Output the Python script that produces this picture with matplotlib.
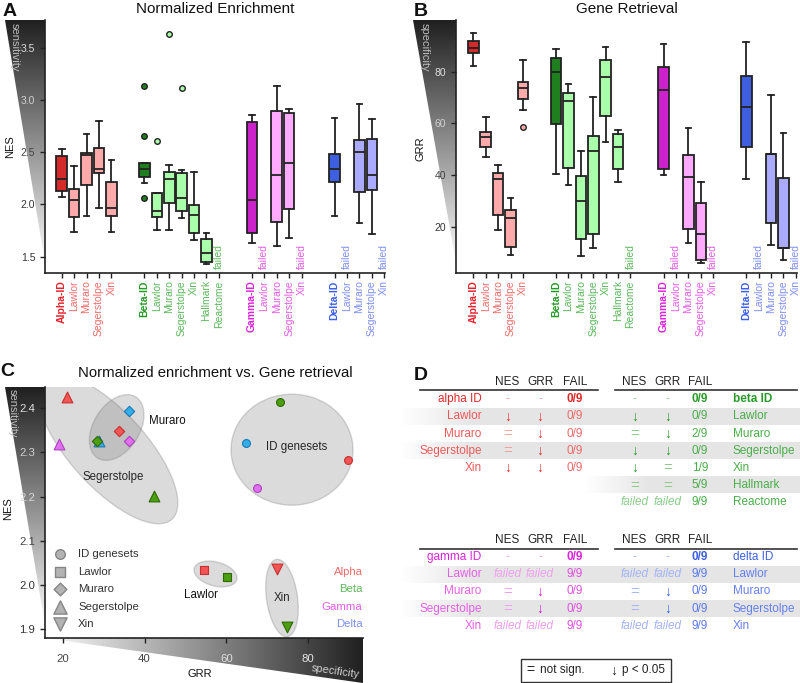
import numpy as np
import matplotlib
matplotlib.use('Agg')
import matplotlib.pyplot as plt
from matplotlib.patches import Polygon, Ellipse, Rectangle
from matplotlib.colors import LinearSegmentedColormap

plt.rcParams['font.family'] = ['Liberation Sans', 'DejaVu Sans']

# ---------------- data ----------------
group_names = ['Alpha', 'Beta', 'Gamma', 'Delta']
alpha_labels = ['Alpha-ID', 'Lawlor', 'Muraro', 'Segerstolpe', 'Xin']
beta_labels = ['Beta-ID', 'Lawlor', 'Muraro', 'Segerstolpe', 'Xin', 'Hallmark', 'Reactome']
gamma_labels = ['Gamma-ID', 'Lawlor', 'Muraro', 'Segerstolpe', 'Xin']
delta_labels = ['Delta-ID', 'Lawlor', 'Muraro', 'Segerstolpe', 'Xin']

N = None
# Panel A: NES box statistics (None = failed)
nes_whislo = [2.07, 1.74, 1.89, 1.97, 1.74, 2.20, 1.76, 1.76, 1.87, 1.66, 1.43, N,
              1.63, N, 1.60, 1.68, N, 1.89, N, 1.82, 1.72, N]
nes_q1 = [2.13, 1.88, 2.19, 2.30, 1.89, 2.26, 1.88, 2.01, 1.94, 1.73, 1.45, N,
          1.73, N, 1.83, 1.96, N, 2.21, N, 2.12, 2.14, N]
nes_med = [2.24, 2.04, 2.47, 2.34, 1.97, 2.34, 1.94, 2.24, 2.06, 1.90, 1.54, N,
           2.04, N, 2.28, 2.40, N, 2.34, N, 2.50, 2.28, N]
nes_q3 = [2.46, 2.15, 2.49, 2.54, 2.21, 2.40, 2.11, 2.31, 2.30, 1.99, 1.67, N,
          2.79, N, 2.89, 2.87, N, 2.48, N, 2.62, 2.63, N]
nes_whishi = [2.53, 2.37, 2.67, 2.80, 2.42, 2.40, 2.11, 2.38, 2.33, 2.31, 1.73, N,
              2.85, N, 3.13, 2.91, N, 2.83, N, 2.96, 2.82, N]
nes_fliers = [[], [], [], [], [], [3.13, 2.65, 2.06], [2.61], [3.63], [3.11], [], [], [],
              [], [], [], [], [], [], [], [], [], []]

# Panel B: GRR box statistics
grr_whislo = [82.2, 47.1, 18.7, 9.0, 65.2, 40.3, 36.1, 8.8, 11.6, 52.9, 37.4, N,
              40.0, N, 13.6, 5.8, N, 38.5, N, 12.9, 7.1, N]
grr_q1 = [87.1, 50.9, 24.5, 12.3, 69.4, 59.6, 42.6, 15.1, 17.1, 63.0, 42.3, N,
          42.2, N, 19.1, 7.1, N, 50.7, N, 21.3, 11.6, N]
grr_med = [89.3, 54.8, 38.5, 23.3, 73.8, 80.0, 68.8, 29.9, 49.4, 78.0, 51.0, N,
           73.0, N, 39.4, 17.1, N, 66.5, N, 48.1, 11.6, N]
grr_q3 = [92.0, 56.5, 40.7, 26.5, 75.9, 85.4, 71.9, 39.7, 55.2, 84.5, 55.9, N,
          81.9, N, 47.8, 29.3, N, 78.3, N, 48.1, 38.7, N]
grr_whishi = [94.9, 62.4, 43.9, 31.0, 84.5, 88.7, 75.1, 49.4, 70.3, 89.5, 57.4, N,
              90.8, N, 58.1, 37.4, N, 91.6, N, 71.0, 56.4, N]
grr_fliers = [[], [], [], [], [58.6], [], [], [], [], [], [], [],
              [], [], [], [], [], [], [], [], [], []]

# Panel C: scatter (median GRR vs NES)
sc_group = ['Alpha', 'Delta', 'Alpha', 'Delta', 'Beta', 'Gamma', 'Gamma', 'Beta',
            'Beta', 'Delta', 'Alpha', 'Gamma', 'Alpha', 'Beta', 'Alpha', 'Beta']
sc_dataset = ['Segerstolpe', 'Muraro', 'Muraro', 'Segerstolpe', 'Muraro', 'Muraro', 'Segerstolpe', 'Segerstolpe',
              'ID genesets', 'ID genesets', 'ID genesets', 'ID genesets', 'Lawlor', 'Lawlor', 'Xin', 'Xin']
sc_grr = [21.0, 36.3, 33.7, 28.9, 28.3, 36.2, 19.1, 42.3,
          73.1, 64.9, 89.7, 67.4, 54.5, 60.2, 72.3, 74.7]
sc_nes = [2.425, 2.394, 2.349, 2.325, 2.327, 2.325, 2.319, 2.202,
          2.415, 2.322, 2.282, 2.219, 2.034, 2.018, 2.035, 1.904]
legend_datasets = ['ID genesets', 'Lawlor', 'Muraro', 'Segerstolpe', 'Xin']

# Panel D: tables
tab_alpha_rows = ['alpha ID', 'Lawlor', 'Muraro', 'Segerstolpe', 'Xin']
tab_alpha_nes = ['-', '↓', '=', '=', '↓']
tab_alpha_grr = ['-', '↓', '↓', '↓', '↓']
tab_alpha_fail = ['0/9', '0/9', '0/9', '0/9', '0/9']
tab_beta_rows = ['beta ID', 'Lawlor', 'Muraro', 'Segerstolpe', 'Xin', 'Hallmark', 'Reactome']
tab_beta_nes = ['-', '↓', '=', '↓', '↓', '=', 'failed']
tab_beta_grr = ['-', '↓', '↓', '↓', '=', '=', 'failed']
tab_beta_fail = ['0/9', '0/9', '2/9', '0/9', '1/9', '5/9', '9/9']
tab_gamma_rows = ['gamma ID', 'Lawlor', 'Muraro', 'Segerstolpe', 'Xin']
tab_gamma_nes = ['-', 'failed', '=', '=', 'failed']
tab_gamma_grr = ['-', 'failed', '↓', '↓', 'failed']
tab_gamma_fail = ['0/9', '9/9', '0/9', '0/9', '9/9']
tab_delta_rows = ['delta ID', 'Lawlor', 'Muraro', 'Segerstolpe', 'Xin']
tab_delta_nes = ['-', 'failed', '=', '=', 'failed']
tab_delta_grr = ['-', 'failed', '↓', '↓', 'failed']
tab_delta_fail = ['0/9', '9/9', '0/9', '0/9', '9/9']

# ---------------- styles ----------------
box_dark = {'Alpha': '#d42a2a', 'Beta': '#1f7f1f', 'Gamma': '#cc22cc', 'Delta': '#3d5fe0'}
box_light = {'Alpha': '#ffaaaa', 'Beta': '#aaffaa', 'Gamma': '#ffaaff', 'Delta': '#aaaaff'}
lab_dark = {'Alpha': '#e8202a', 'Beta': '#229a22', 'Gamma': '#dd22dd', 'Delta': '#3c5ef0'}
lab_light = {'Alpha': '#f26a6a', 'Beta': '#5cb85c', 'Gamma': '#e65ce6', 'Delta': '#7f8ff5'}
pt_face = {'Alpha': '#f25555', 'Beta': '#4c9e12', 'Gamma': '#e070f0', 'Delta': '#33aee8'}
pt_edge = {'Alpha': '#c83030', 'Beta': '#2d6a00', 'Gamma': '#b040c0', 'Delta': '#1a78b8'}
markers = {'ID genesets': 'o', 'Lawlor': 's', 'Muraro': 'D', 'Segerstolpe': '^', 'Xin': 'v'}
msize = {'ID genesets': 32, 'Lawlor': 30, 'Muraro': 28, 'Segerstolpe': 60, 'Xin': 60}

W, H = 800, 683
fig = plt.figure(figsize=(8, 6.83), dpi=100)
bg = fig.add_axes([0, 0, 1, 1], zorder=0)
bg.axis('off')


def fax(l, t, r, b, lsize):
    ax = fig.add_axes([l / W, 1 - b / H, (r - l) / W, (b - t) / H], zorder=1)
    ax.set_facecolor('none')
    for s in ('top', 'right'):
        ax.spines[s].set_visible(False)
    for s in ('left', 'bottom'):
        ax.spines[s].set_color('#222222')
        ax.spines[s].set_linewidth(1.2)
    ax.tick_params(direction='out', length=3.5, width=1.0, color='#222222', labelsize=lsize)
    return ax


gcmap = LinearSegmentedColormap.from_list('g', ['#202020', '#fbfbfb'])


def wedge(verts, horizontal=False):
    xs = [v[0] for v in verts]
    ys = [v[1] for v in verts]
    g = np.linspace(0, 1, 256)
    if horizontal:
        img = g[None, :]
        cm = gcmap.reversed()
    else:
        img = g[:, None]
        cm = gcmap
    im = bg.imshow(img, extent=(min(xs), max(xs), max(ys), min(ys)), cmap=cm,
                   aspect='auto', origin='upper', interpolation='bilinear', zorder=0)
    poly = Polygon(verts, closed=True, facecolor='none', edgecolor='none', transform=bg.transData)
    bg.add_patch(poly)
    im.set_clip_path(poly)


# ---------------- positions ----------------
all_labels = [alpha_labels, beta_labels, gamma_labels, delta_labels]
positions, flat_labels, flat_groups, is_id = [], [], [], []
p = 0.0
for gname, labs in zip(group_names, all_labels):
    for j, lab in enumerate(labs):
        positions.append(p)
        flat_labels.append(lab)
        flat_groups.append(gname)
        is_id.append(j == 0)
        p += 1
    p += 1.67


def box_panel(ax, whislo, q1, med, q3, whishi, fliers):
    stats, pos, fcs = [], [], []
    for i in range(len(positions)):
        if med[i] is None:
            continue
        stats.append(dict(whislo=whislo[i], q1=q1[i], med=med[i], q3=q3[i], whishi=whishi[i],
                          fliers=np.array(fliers[i], dtype=float)))
        pos.append(positions[i])
        g = flat_groups[i]
        fcs.append(box_dark[g] if is_id[i] else box_light[g])
    art = ax.bxp(stats, positions=pos, widths=0.85, capwidths=0.45, patch_artist=True,
                 manage_ticks=False,
                 boxprops=dict(edgecolor='#222222', linewidth=1.3),
                 medianprops=dict(color='#222222', linewidth=1.3),
                 whiskerprops=dict(color='#222222', linewidth=1.3),
                 capprops=dict(color='#222222', linewidth=1.3),
                 flierprops=dict(marker='o', markersize=4, markeredgecolor='#222222',
                                 markeredgewidth=1.0))
    for b, c in zip(art['boxes'], fcs):
        b.set_facecolor(c)
    for fl, c in zip(art['fliers'], fcs):
        fl.set_markerfacecolor(c)
    for i in range(len(positions)):
        if med[i] is None:
            ax.text(positions[i], 0.016, 'failed', rotation=90, ha='center', va='bottom',
                    color=lab_light[flat_groups[i]], fontsize=7.5,
                    transform=ax.get_xaxis_transform())
    ax.set_xticks(positions)
    ax.set_xticklabels(flat_labels, rotation=90, fontsize=7.5)
    for tl, g, idf in zip(ax.get_xticklabels(), flat_groups, is_id):
        tl.set_color(lab_dark[g] if idf else lab_light[g])
        if idf:
            tl.set_fontweight('bold')
    ax.tick_params(axis='x', pad=2)


# ---------------- Panel A ----------------
wedge([(5, 20), (45, 20), (45, 263)])
axA = fax(45, 20, 385, 272.7, 7.5)
box_panel(axA, nes_whislo, nes_q1, nes_med, nes_q3, nes_whishi, nes_fliers)
axA.set_xlim(-1.35, 26.07)
axA.set_ylim(1.347, 3.763)
axA.set_yticks([1.5, 2.0, 2.5, 3.0, 3.5])
axA.set_yticklabels(['1.5', '2.0', '2.5', '3.0', '3.5'])
for tl, c in zip(axA.get_yticklabels(), ['#333333', '#333333', '#444444', '#d0d0d0', '#dddddd']):
    tl.set_color(c)
bg.text(10, 147, 'NES', rotation=90, ha='center', va='center', fontsize=8, color='#111111')
bg.text(15, 23, 'sensitivity', rotation=-90, ha='center', va='top', fontsize=8, color='#bdbdbd')
bg.text(215, 9, 'Normalized Enrichment', ha='center', va='center', fontsize=11, color='#111111')
bg.text(3, 11, 'A', ha='left', va='center', fontsize=14, fontweight='bold', color='#111111')

# ---------------- Panel B ----------------
wedge([(413, 20), (456, 20), (456, 263)])
axB = fax(456, 20, 797, 272.7, 7.5)
box_panel(axB, grr_whislo, grr_q1, grr_med, grr_q3, grr_whishi, grr_fliers)
axB.set_xlim(-1.40, 26.1)
axB.set_ylim(2.2, 100.0)
axB.set_yticks([20, 40, 60, 80])
axB.set_yticklabels(['20', '40', '60', '80'])
for tl, c in zip(axB.get_yticklabels(), ['#333333', '#444444', '#d0d0d0', '#dddddd']):
    tl.set_color(c)
bg.text(421, 149, 'GRR', rotation=90, ha='center', va='center', fontsize=8, color='#111111')
bg.text(425, 23, 'specificity', rotation=-90, ha='center', va='top', fontsize=8, color='#bdbdbd')
bg.text(627, 9, 'Gene Retrieval', ha='center', va='center', fontsize=11, color='#111111')
bg.text(414, 11, 'B', ha='left', va='center', fontsize=14, fontweight='bold', color='#111111')

# ---------------- Panel C ----------------
wedge([(5, 387), (45, 387), (45, 625)])
wedge([(45, 638.3), (363, 638.3), (363, 683)], horizontal=True)
axC = fax(45, 386.7, 362.7, 638.3, 8.2)
ellipses = [  # (cx, cy, width, height, screen angle) in pixels
    (108, 449, 190, 76, -47.7),
    (116.7, 427.5, 72, 46, 58),
    (292, 449.7, 122, 111, 0),
    (215.5, 574, 44, 24, -15),
    (282, 598, 31, 78, 8),
]
for cx, cy, w, h, ang in ellipses:
    e = Ellipse((cx, cy), w, h, angle=-ang, transform=bg.transData,
                facecolor=(0.42, 0.42, 0.42, 0.24), edgecolor=(0.45, 0.45, 0.45, 0.28),
                linewidth=1.0, zorder=1)
    axC.add_patch(e)
for g, d, x, y in zip(sc_group, sc_dataset, sc_grr, sc_nes):
    axC.scatter([x], [y], marker=markers[d], s=msize[d], facecolor=pt_face[g],
                edgecolor=pt_edge[g], linewidth=0.8, zorder=3)
axC.set_xlim(15.68, 93.3)
axC.set_ylim(1.879, 2.449)
axC.set_xticks([20, 40, 60, 80])
axC.set_xticklabels(['20', '40', '60', '80'])
axC.set_yticks([1.9, 2.0, 2.1, 2.2, 2.3, 2.4])
axC.set_yticklabels(['1.9', '2.0', '2.1', '2.2', '2.3', '2.4'])
axC.tick_params(axis='x', pad=7.5)
for tl, c in zip(axC.get_xticklabels(), ['#444444', '#444444', '#dddddd', '#e6e6e6']):
    tl.set_color(c)
for tl, c in zip(axC.get_yticklabels(), ['#333333', '#333333', '#444444', '#d8d8d8', '#d0d0d0', '#dddddd']):
    tl.set_color(c)
bg.text(200, 674, 'GRR', ha='center', va='center', fontsize=8, color='#111111')
bg.text(8, 509, 'NES', rotation=90, ha='center', va='center', fontsize=8, color='#111111')
bg.text(13, 389, 'sensitivity', rotation=-90, ha='center', va='top', fontsize=8, color='#bdbdbd')
bg.text(336, 671, 'specificity', rotation=-8, ha='center', va='center', fontsize=8, color='#cfcfcf')
bg.text(215, 373, 'Normalized enrichment vs. Gene retrieval', ha='center', va='center',
        fontsize=10.7, color='#111111')
bg.text(0, 372, 'C', ha='left', va='center', fontsize=14, fontweight='bold', color='#111111')
for txt, x, y in [('Muraro', 167, 421.5), ('Segerstolpe', 113.5, 476.7),
                  ('ID genesets', 296.7, 446.7), ('Lawlor', 201, 595), ('Xin', 282, 598.3)]:
    bg.text(x, y, txt, ha='center', va='center', fontsize=8.3, color='#111111', zorder=5)
for k, d in enumerate(legend_datasets):
    y = 554.3 + k * 17.4
    bg.scatter([60], [y], marker=markers[d], s=msize[d] * 1.5, facecolor='#b3b3b3',
               edgecolor='#858585', linewidth=1.0, zorder=5)
    bg.text(78, y, d, ha='left', va='center', fontsize=8.2, color='#333333')
for k, g in enumerate(group_names):
    y = 571.7 + k * 17.4
    bg.text(362.5, y, g, ha='right', va='center', fontsize=8.2, color=lab_light[g])

# ---------------- Panel D ----------------
bg.text(414, 376, 'D', ha='left', va='center', fontsize=14, fontweight='bold', color='#111111')


def band(x0, x1, y0, y1, fade):
    n = 256
    xs = np.linspace(x0, x1, n)
    a = np.clip((xs - x0) / fade, 0, 1)
    img = np.zeros((1, n, 4))
    img[..., :3] = 0.9
    img[0, :, 3] = a
    bg.imshow(img, extent=(x0, x1, y1, y0), aspect='auto', origin='upper',
              interpolation='bilinear', zorder=0)


band(400, 800, 409, 425.5, 75)
band(400, 800, 442.7, 459.3, 75)
band(585, 800, 476.7, 493.3, 65)
band(400, 800, 565.7, 582.7, 75)
band(400, 800, 600, 616.7, 75)

tcol = {
    'Alpha': dict(id='#e02828', lab='#ee5a5a', arrow='#e03030', faint='#f4a0a0', fail='#ee6a6a'),
    'Beta': dict(id='#2a9a2a', lab='#4aae4a', arrow='#2a9a2a', faint='#8ccc8c', fail='#4aae4a'),
    'Gamma': dict(id='#dd22dd', lab='#e860e8', arrow='#d020d0', faint='#eea0ee', fail='#e050e0'),
    'Delta': dict(id='#3c5ee8', lab='#6680f0', arrow='#3366e0', faint='#a4b4f6', fail='#5a78f0'),
}


def table(g, rows, nes, grr, fail, x_lab, lab_ha, x_n, x_g, x_f, y_head, y0, dy, line, id_bold):
    c = tcol[g]
    for txt, x in (('NES', x_n), ('GRR', x_g), ('FAIL', x_f)):
        bg.text(x, y_head, txt, ha='center', va='center', fontsize=8.5, color='#222222')
    bg.plot(line, [y_head + 8.5] * 2, color='#333333', linewidth=1.2)
    for i, (r, n, gg, f) in enumerate(zip(rows, nes, grr, fail)):
        y = y0 + i * dy
        bg.text(x_lab, y, r, ha=lab_ha, va='center', fontsize=8.5,
                color=c['id'] if i == 0 else c['lab'],
                fontweight='bold' if (i == 0 and id_bold) else 'normal')
        for x, s in ((x_n, n), (x_g, gg)):
            if s == 'failed':
                bg.text(x, y, s, ha='center', va='center', fontsize=8.5, style='italic', color=c['faint'])
            elif s == '=':
                bg.text(x, y + 0.5, s, ha='center', va='center', fontsize=11, color=c['faint'])
            elif s == '-':
                bg.text(x, y, s, ha='center', va='center', fontsize=8.5, color=c['faint'])
            else:
                bg.text(x, y, s, ha='center', va='center', fontsize=10, color=c['arrow'])
        bg.text(x_f, y, f, ha='center', va='center', fontsize=8.5,
                color=c['id'] if i == 0 else c['fail'],
                fontweight='bold' if i == 0 else 'normal')


table('Alpha', tab_alpha_rows, tab_alpha_nes, tab_alpha_grr, tab_alpha_fail,
      481.7, 'right', 507.3, 540, 575, 381.7, 399.3, 17.17, [420, 598], False)
table('Beta', tab_beta_rows, tab_beta_nes, tab_beta_grr, tab_beta_fail,
      732.7, 'left', 634.5, 667.5, 700, 381.7, 399.3, 17.17, [615, 797], True)
table('Gamma', tab_gamma_rows, tab_gamma_nes, tab_gamma_grr, tab_gamma_fail,
      481.7, 'right', 507.3, 540, 575, 540, 557.3, 17.1, [420, 598], False)
table('Delta', tab_delta_rows, tab_delta_nes, tab_delta_grr, tab_delta_fail,
      732.7, 'left', 634.5, 667.5, 700, 540, 557.3, 17.1, [615, 797], False)

bg.add_patch(Rectangle((520.7, 659.3), 150, 22.4, facecolor='white', edgecolor='#333333', linewidth=1.0))
bg.text(530.5, 670.2, '=', ha='center', va='center', fontsize=10, color='#222222')
bg.text(540, 670.5, 'not sign.', ha='left', va='center', fontsize=8.5, color='#222222')
bg.text(613.5, 670.5, '↓', ha='center', va='center', fontsize=10, color='#222222')
bg.text(622.5, 670.5, 'p < 0.05', ha='left', va='center', fontsize=8.5, color='#222222')

bg.set_xlim(0, W)
bg.set_ylim(H, 0)
fig.savefig('out.png', dpi=100)
